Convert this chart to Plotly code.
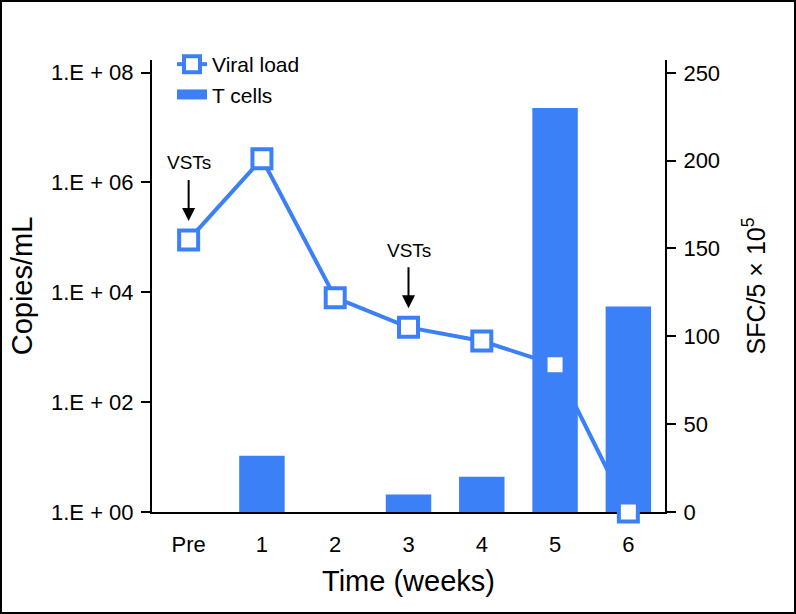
import numpy as np
import plotly.graph_objects as go

# ---- data ----
weeks = ["Pre", "1", "2", "3", "4", "5", "6"]
viral_load = [9.0e4, 2.7e6, 8.0e3, 2.3e3, 1.3e3, 4.8e2, 1.0]   # copies/mL
t_cells = [0, 32, 0, 10, 20, 230, 117]                        # SFC/5x10^5
vst_weeks = ["Pre", "3"]
left_tickvals = [1, 1e2, 1e4, 1e6, 1e8]
left_ticktext = ["1.E + 00", "1.E + 02", "1.E + 04", "1.E + 06", "1.E + 08"]
right_tickvals = [0, 50, 100, 150, 200, 250]

BLUE = "#3b80f7"
FONT = "Liberation Sans, Arial, sans-serif"

fig = go.Figure()

# legend proxies
fig.add_trace(go.Scatter(
    x=[None], y=[None], mode="lines+markers", name="Viral load",
    line=dict(color=BLUE, width=4),
    marker=dict(symbol="square", size=19, color="white", line=dict(color=BLUE, width=4)),
    yaxis="y", showlegend=True))
fig.add_trace(go.Scatter(
    x=[None], y=[None], mode="lines", name="T cells",
    line=dict(color=BLUE, width=18),
    yaxis="y", showlegend=True))

# viral load line (behind bars)
fig.add_trace(go.Scatter(
    x=weeks, y=viral_load, mode="lines", line=dict(color=BLUE, width=4),
    yaxis="y", showlegend=False, hoverinfo="skip", cliponaxis=False))

# T cell bars
fig.add_trace(go.Bar(
    x=weeks, y=t_cells, name="T cells", marker=dict(color=BLUE, line=dict(width=0)),
    width=0.62, yaxis="y2", showlegend=False))

# viral load markers (on top)
fig.add_trace(go.Scatter(
    x=weeks, y=viral_load, mode="markers",
    marker=dict(symbol="square", size=19, color="white", line=dict(color=BLUE, width=4)),
    yaxis="y3", showlegend=False, cliponaxis=False))

log_range = [0, 8.23]

annotations = []
for w in vst_weeks:
    v = viral_load[weeks.index(w)]
    annotations.append(dict(
        x=w, y=np.log10(v), xref="x", yref="y", text="VSTs", showarrow=True,
        ax=0, ay=-77, arrowhead=2, arrowsize=1.3, arrowwidth=2, arrowcolor="black",
        standoff=19, borderpad=6,
        font=dict(size=19, color="black", family=FONT)))

W, H = 796, 614
ml, mr, mt, mb = 152, 131, 60, 102
pw, ph = W - ml - mr, H - mt - mb

fig.update_layout(
    width=W, height=H,
    margin=dict(l=ml, r=mr, t=mt, b=mb, autoexpand=False),
    paper_bgcolor="white", plot_bgcolor="white",
    font=dict(family=FONT, color="black", size=22),
    xaxis=dict(
        type="category", categoryorder="array", categoryarray=weeks,
        range=[-0.5, 6.5], automargin=False, layer="below traces",
        showline=True, linecolor="black", linewidth=2, ticks="",
        showgrid=False, zeroline=False,
        tickfont=dict(size=22), ticklabelstandoff=12,
        title=dict(text="Time (weeks)", font=dict(size=29), standoff=14),
    ),
    yaxis=dict(
        type="log", range=log_range, automargin=False,
        tickvals=left_tickvals, ticktext=left_ticktext,
        ticks="outside", ticklen=9, tickwidth=2, tickcolor="black",
        showline=True, linecolor="black", linewidth=2,
        showgrid=False, zeroline=False,
        tickfont=dict(size=22), ticklabelstandoff=3,
        title=dict(text="Copies/mL", font=dict(size=29), standoff=10),
    ),
    yaxis2=dict(
        overlaying="y", side="right", range=[0, 257.3], automargin=False,
        tickvals=right_tickvals,
        ticks="outside", ticklen=9, tickwidth=2, tickcolor="black",
        showline=True, linecolor="black", linewidth=2,
        showgrid=False, zeroline=False,
        tickfont=dict(size=22), ticklabelstandoff=3,
        title=dict(text="SFC/5 × 10<sup>5</sup>", font=dict(size=25), standoff=28),
    ),
    yaxis3=dict(
        overlaying="y", type="log", range=log_range, visible=False,
    ),
    legend=dict(
        x=(172 - ml) / pw, y=1 + 16 / ph, xanchor="left", yanchor="top",
        bgcolor="rgba(0,0,0,0)", font=dict(size=21), traceorder="normal",
        tracegroupgap=0,
    ),
    annotations=annotations,
    shapes=[dict(
        type="rect", xref="paper", yref="paper",
        x0=(1 - ml) / pw, x1=(W - 1 - ml) / pw,
        y0=(ph + mt - (H - 1)) / ph, y1=(ph + mt - 1) / ph,
        line=dict(color="black", width=2), fillcolor="rgba(0,0,0,0)", layer="above")],
)

fig.write_html(
    "out.html",
    config={"displayModeBar": False},
    post_script="document.body.style.margin='0';document.body.style.overflow='hidden';",
)
